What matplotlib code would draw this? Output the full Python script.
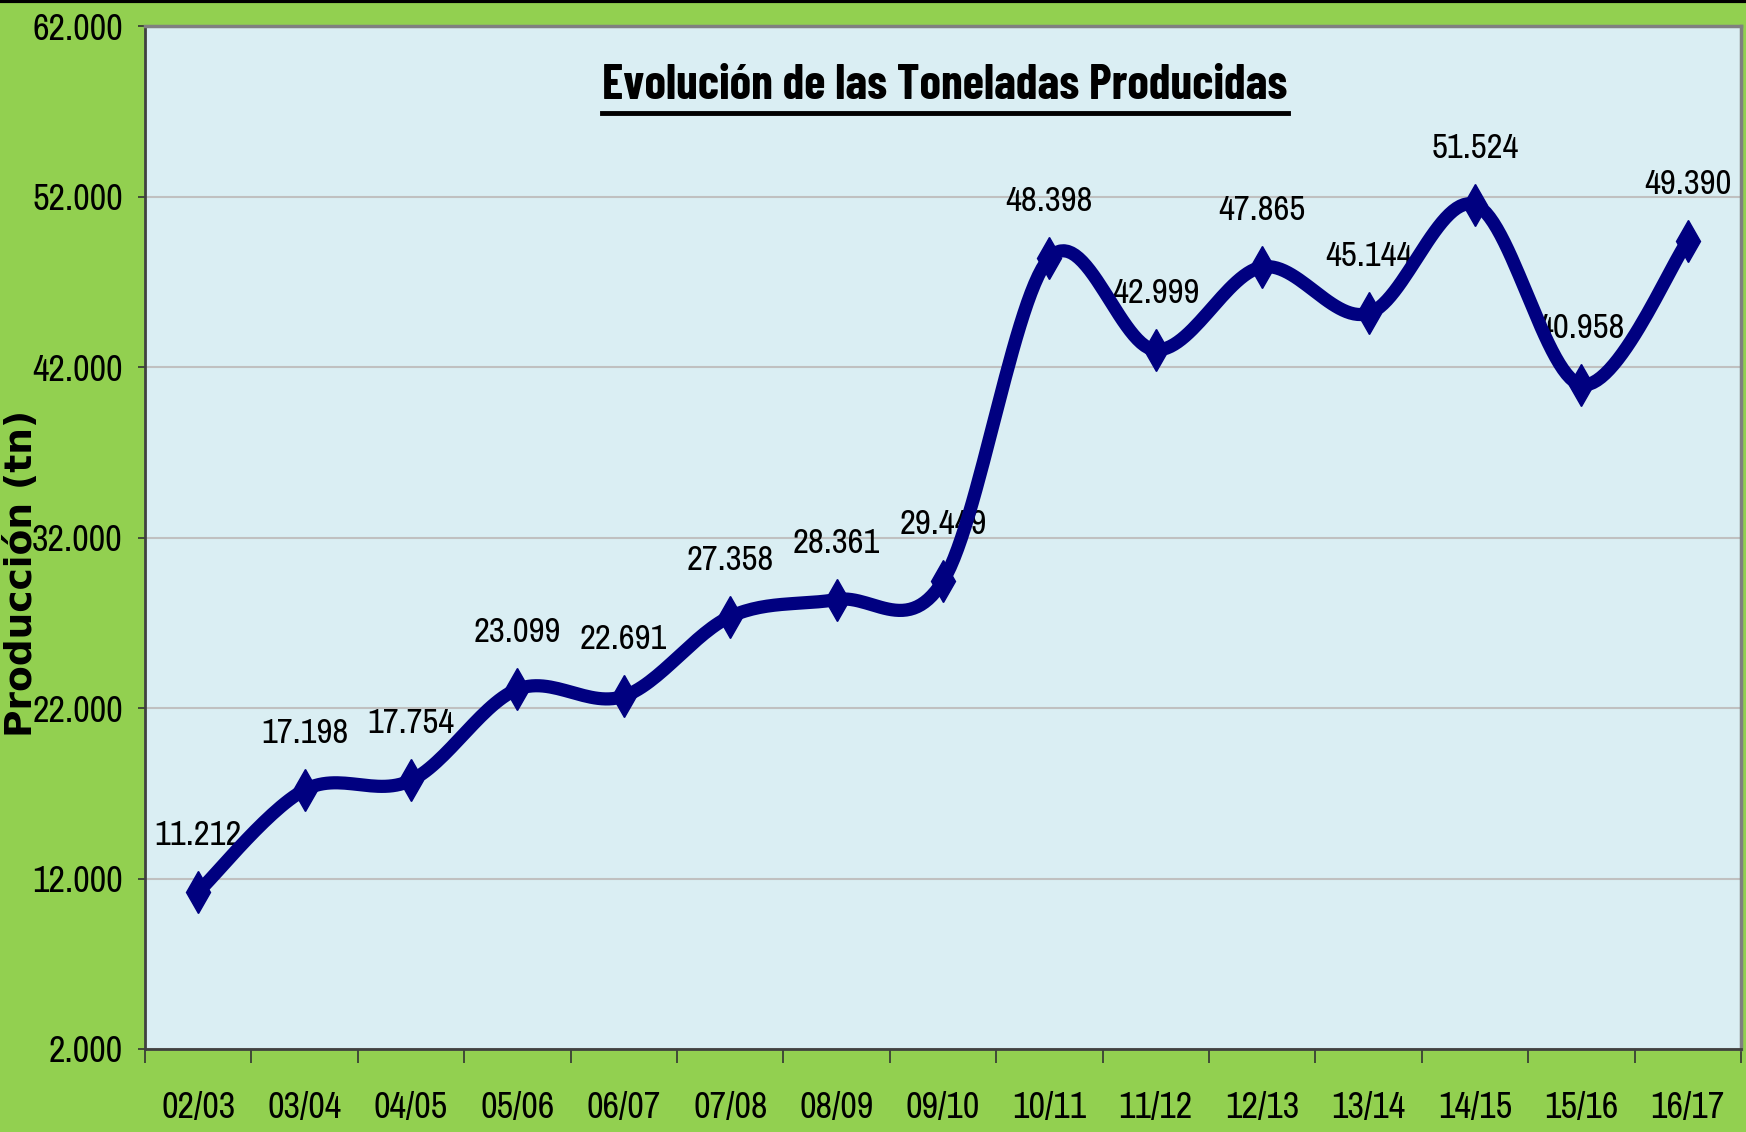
import numpy as np
import matplotlib.pyplot as plt
from matplotlib.lines import Line2D

# data
campaigns = ["02/03", "03/04", "04/05", "05/06", "06/07", "07/08", "08/09", "09/10",
             "10/11", "11/12", "12/13", "13/14", "14/15", "15/16", "16/17"]
tons = [11212, 17198, 17754, 23099, 22691, 27358, 28361, 29449,
        48398, 42999, 47865, 45144, 51524, 40958, 49390]
y_ticks = [2000, 12000, 22000, 32000, 42000, 52000, 62000]

narrow = ['Archivo Narrow', 'Liberation Sans', 'DejaVu Sans']
narrow_bold = ['Barlow Condensed', 'Liberation Sans', 'DejaVu Sans']
green = "#92D050"
plot_bg = "#DAEEF3"
navy = "#000080"


def fmt(v):
    return f"{v:,}".replace(",", ".")


def smooth(xs, ys, n=30):
    # excel-like smoothed line (catmull-rom bezier)
    px, py = [], []
    m = len(xs)
    for i in range(m - 1):
        x0, y0 = (xs[i - 1], ys[i - 1]) if i > 0 else (xs[i], ys[i])
        x1, y1 = xs[i], ys[i]
        x2, y2 = xs[i + 1], ys[i + 1]
        x3, y3 = (xs[i + 2], ys[i + 2]) if i + 2 < m else (x2, y2)
        c1x, c1y = x1 + (x2 - x0) / 6, y1 + (y2 - y0) / 6
        c2x, c2y = x2 - (x3 - x1) / 6, y2 - (y3 - y1) / 6
        t = np.linspace(0, 1, n)
        bx = (1 - t)**3 * x1 + 3 * (1 - t)**2 * t * c1x + 3 * (1 - t) * t**2 * c2x + t**3 * x2
        by = (1 - t)**3 * y1 + 3 * (1 - t)**2 * t * c1y + 3 * (1 - t) * t**2 * c2y + t**3 * y2
        px.extend(bx)
        py.extend(by)
    return np.array(px), np.array(py)


fig = plt.figure(figsize=(17.46, 11.32), dpi=100, facecolor=green)
ax = fig.add_axes([145 / 1746, 1 - 1049 / 1132, (1741 - 145) / 1746, (1049 - 26) / 1132])
ax.set_facecolor(plot_bg)

x = np.arange(len(campaigns))
sx, sy = smooth(x, tons)
ax.plot(sx, sy, color=navy, lw=9.5, solid_capstyle='round', zorder=4)
ax.plot(x, tons, ls='none', marker='d', ms=21, color=navy, zorder=5)

for xi, v in zip(x, tons):
    ax.annotate(fmt(v), (xi, v), xytext=(0, 41), textcoords='offset points',
                ha='center', va='center', fontsize=25, family=narrow, zorder=3)

ax.set_xlim(-0.5, len(campaigns) - 0.5)
ax.set_ylim(2000, 62000)

# major ticks at category borders, labels on minor ticks
ax.set_xticks(np.arange(len(campaigns) + 1) - 0.5)
ax.set_xticklabels([])
ax.set_xticks(x, minor=True)
ax.set_xticklabels(campaigns, minor=True, fontsize=26, family=narrow)
ax.tick_params(axis='x', which='major', length=10, width=1.2, direction='out', color='#333333')
ax.tick_params(axis='x', which='minor', length=0, pad=30)

ax.set_yticks(y_ticks)
ax.set_yticklabels([fmt(t) for t in y_ticks], fontsize=26, family=narrow)
ax.tick_params(axis='y', length=5, width=1.2, pad=11, color='#333333')

ax.grid(axis='y', color='#C0C0C0', lw=1.5, zorder=0)
ax.set_axisbelow(True)

for side in ['top', 'right']:
    ax.spines[side].set_color('#808080')
    ax.spines[side].set_linewidth(2.5)
for side in ['left', 'bottom']:
    ax.spines[side].set_color('#404040')
    ax.spines[side].set_linewidth(2)

fig.text(22 / 1746, 1 - 573 / 1132, "Producción (tn)", rotation=90, ha='center', va='center',
         fontsize=27, fontweight='bold', family='DejaVu Sans')

title = fig.text(945 / 1746, 1 - 86 / 1132, "Evolución de las Toneladas Producidas",
                 ha='center', va='center', fontsize=35, fontweight='bold', family=narrow_bold)

# underline the title
fig.canvas.draw()
bb = title.get_window_extent().transformed(fig.transFigure.inverted())
uy = 1 - 113 / 1132
fig.add_artist(Line2D([bb.x0, bb.x1], [uy, uy], transform=fig.transFigure, color='black', lw=3.5))

# black line on top edge
fig.add_artist(Line2D([0, 1], [0.999, 0.999], transform=fig.transFigure, color='black', lw=3))

plt.savefig("out.png", dpi=100, facecolor=green)
